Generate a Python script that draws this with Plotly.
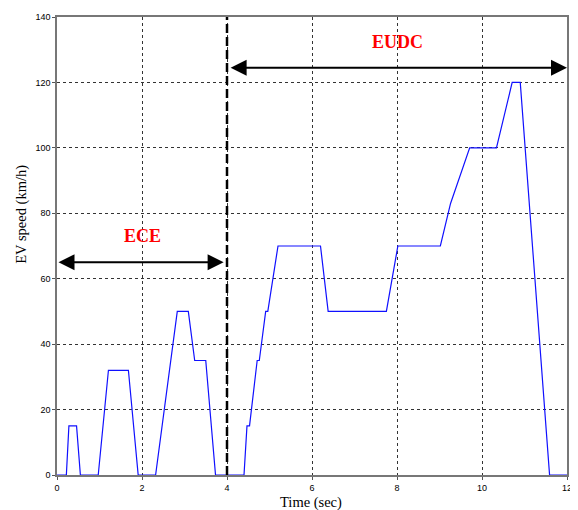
import plotly.graph_objects as go

# NEDC-like speed profile (time in scaled seconds, speed km/h)
time_s = [0, 0.22, 0.28, 0.46, 0.55, 0.97, 1.21, 1.68, 1.91, 2.32, 2.83, 3.09, 3.24, 3.50, 3.73,
          4.40, 4.47, 4.53, 4.71, 4.76, 4.91, 4.96, 5.20, 6.20, 6.38, 7.75, 8.02, 9.02, 9.26,
          9.71, 10.34, 10.71, 10.90, 11.59, 12.0]
speed = [0, 0, 15, 15, 0, 0, 32, 32, 0, 0, 50, 50, 35, 35, 0,
         0, 15, 15, 35, 35, 50, 50, 70, 70, 50, 50, 70, 70, 83,
         100, 100, 120, 120, 0, 0]

x_ticks = [0, 2, 4, 6, 8, 10, 12]
y_ticks = [0, 20, 40, 60, 80, 100, 120, 140]

boundary_x = 4
ece_span = [0, 3.92]
ece_y = 65
eudc_span = [4.05, 12]
eudc_y = 124.5

fig = go.Figure()
fig.add_trace(go.Scatter(x=time_s, y=speed, mode="lines",
                         line=dict(color="#1010ff", width=1.2), showlegend=False,
                         hoverinfo="skip"))

fig.add_shape(type="line", x0=boundary_x, x1=boundary_x, y0=0, y1=140, xref="x", yref="y",
              line=dict(color="black", width=2.5, dash="9px,4px"))

serif = "Liberation Serif, Times New Roman, serif"
anns = []
for (x0, x1), yv in [(ece_span, ece_y), (eudc_span, eudc_y)]:
    anns.append(dict(x=x1, y=yv, ax=x0, ay=yv, xref="x", yref="y", axref="x", ayref="y",
                     text="", showarrow=True, arrowhead=2, startarrowhead=2,
                     arrowside="end+start", arrowsize=1.6, startarrowsize=1.6,
                     arrowwidth=2, arrowcolor="black", standoff=0, startstandoff=0))
anns.append(dict(x=2, y=73, xref="x", yref="y", text="<b>ECE</b>", showarrow=False,
                 font=dict(family=serif, size=18, color="red")))
anns.append(dict(x=8, y=132.5, xref="x", yref="y", text="<b>EUDC</b>", showarrow=False,
                 font=dict(family=serif, size=18, color="red")))
anns.append(dict(x=0.498, y=-0.059, xref="paper", yref="paper", text="Time (sec)",
                 showarrow=False, yanchor="middle",
                 font=dict(family=serif, size=14.5, color="black")))
anns.append(dict(x=-0.069, y=0.57, xref="paper", yref="paper", text="EV speed (km/h)",
                 showarrow=False, textangle=-90, xanchor="center",
                 font=dict(family=serif, size=14.5, color="black")))

tickfont = dict(family="Liberation Sans Narrow, Arial Narrow, sans-serif", size=9, color="black")
grid = dict(showgrid=True, gridcolor="#333333", griddash="3px,3px", gridwidth=1,
            showline=True, linecolor="#777777", linewidth=1.5, mirror=True,
            ticks="outside", ticklen=3, tickcolor="#555555", zeroline=False,
            tickfont=tickfont)

# page body adds an 8px offset, so the figure is sized to fill the rest of the window
fig.update_layout(
    width=570, height=502,
    margin=dict(l=49, r=11, t=4, b=35),
    paper_bgcolor="white", plot_bgcolor="white",
    annotations=anns,
    xaxis=dict(range=[0, 12], tickvals=x_ticks, ticktext=[str(v) for v in x_ticks], **grid),
    yaxis=dict(range=[0, 140], tickvals=y_ticks, ticktext=[str(v) for v in y_ticks], **grid),
)

fig.write_html("out.html")
